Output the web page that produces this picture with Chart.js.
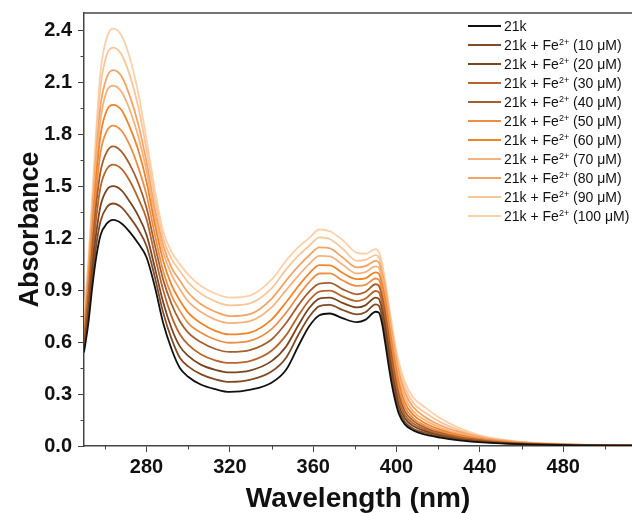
<!DOCTYPE html>
<html>
<head>
<meta charset="utf-8">
<script src="https://cdn.jsdelivr.net/npm/chart.js@4.4.1/dist/chart.umd.min.js"></script>
<style>
  body { margin: 0; background: #fff; }
  #wrap { position: relative; width: 632px; height: 513px; overflow: hidden; }
  #legend { position: absolute; left: 468px; top: 16px; font: 14px "Liberation Sans", Arial, sans-serif; color: #111; }
  #legend .row { height: 19.1px; display: flex; align-items: center; white-space: nowrap; }
  #legend .swatch { width: 33px; height: 2px; margin-right: 3px; flex: none; }
  #legend sup { font-size: 9px; vertical-align: 5px; line-height: 0; }
</style>
</head>
<body>
<div id="wrap">
  <canvas id="chartCanvas" width="632" height="513"></canvas>
  <div id="legend"></div>
</div>
<script>
// wavelength grid (nm)
const wavelengths = [250, 252, 254, 256, 258, 261, 264, 268, 272, 276, 280, 284, 288, 292, 296, 300, 306, 313, 320, 330, 340, 347, 353, 358, 363, 368, 374, 381, 385, 390, 391.5, 393, 394.5, 396, 397.5, 399, 401, 404, 408, 414, 421, 430, 443, 462, 486, 513];

// absorbance
const abs0 = [0.54, 0.70, 0.92, 1.10, 1.22, 1.285, 1.305, 1.285, 1.235, 1.17, 1.09, 0.92, 0.71, 0.56, 0.45, 0.40, 0.355, 0.328, 0.312, 0.325, 0.365, 0.44, 0.58, 0.69, 0.755, 0.765, 0.738, 0.715, 0.728, 0.775, 0.77, 0.71, 0.60, 0.48, 0.37, 0.28, 0.19, 0.125, 0.09, 0.065, 0.048, 0.033, 0.02, 0.009, 0.004, 0.002];
const abs10 = [0.56, 0.74, 0.97, 1.17, 1.30, 1.38, 1.40, 1.378, 1.32, 1.25, 1.155, 0.975, 0.77, 0.62, 0.51, 0.46, 0.415, 0.385, 0.37, 0.383, 0.43, 0.51, 0.645, 0.745, 0.808, 0.815, 0.786, 0.76, 0.772, 0.818, 0.81, 0.75, 0.645, 0.525, 0.41, 0.315, 0.215, 0.14, 0.10, 0.075, 0.054, 0.037, 0.022, 0.01, 0.0045, 0.002];
const abs20 = [0.58, 0.77, 1.03, 1.24, 1.39, 1.48, 1.50, 1.476, 1.41, 1.33, 1.22, 1.03, 0.83, 0.68, 0.575, 0.52, 0.47, 0.44, 0.425, 0.437, 0.49, 0.575, 0.70, 0.795, 0.851, 0.857, 0.826, 0.80, 0.812, 0.857, 0.85, 0.79, 0.69, 0.57, 0.45, 0.35, 0.24, 0.16, 0.115, 0.085, 0.061, 0.041, 0.024, 0.011, 0.005, 0.0025];
const abs30 = [0.60, 0.82, 1.09, 1.33, 1.50, 1.60, 1.625, 1.60, 1.53, 1.43, 1.31, 1.10, 0.90, 0.75, 0.645, 0.585, 0.53, 0.495, 0.48, 0.492, 0.55, 0.64, 0.755, 0.84, 0.892, 0.897, 0.864, 0.837, 0.85, 0.895, 0.888, 0.83, 0.73, 0.61, 0.49, 0.385, 0.27, 0.18, 0.13, 0.095, 0.068, 0.046, 0.027, 0.012, 0.0055, 0.0025];
const abs40 = [0.62, 0.86, 1.15, 1.41, 1.59, 1.70, 1.73, 1.70, 1.625, 1.52, 1.375, 1.16, 0.96, 0.82, 0.72, 0.655, 0.60, 0.56, 0.543, 0.555, 0.615, 0.71, 0.815, 0.89, 0.938, 0.942, 0.906, 0.876, 0.889, 0.934, 0.926, 0.865, 0.77, 0.65, 0.53, 0.42, 0.30, 0.20, 0.145, 0.105, 0.076, 0.051, 0.03, 0.013, 0.006, 0.003];
const abs50 = [0.64, 0.90, 1.21, 1.49, 1.70, 1.82, 1.85, 1.82, 1.735, 1.61, 1.45, 1.22, 1.01, 0.87, 0.78, 0.71, 0.655, 0.615, 0.596, 0.608, 0.675, 0.77, 0.87, 0.945, 0.996, 0.997, 0.957, 0.924, 0.93, 0.967, 0.96, 0.90, 0.81, 0.69, 0.57, 0.46, 0.335, 0.225, 0.16, 0.117, 0.085, 0.057, 0.033, 0.014, 0.0065, 0.003];
const abs60 = [0.66, 0.94, 1.26, 1.57, 1.80, 1.94, 1.97, 1.94, 1.84, 1.71, 1.525, 1.28, 1.07, 0.93, 0.84, 0.77, 0.71, 0.665, 0.644, 0.656, 0.73, 0.83, 0.925, 0.995, 1.044, 1.043, 1.0, 0.963, 0.968, 1.002, 0.995, 0.935, 0.85, 0.73, 0.61, 0.50, 0.37, 0.25, 0.18, 0.13, 0.095, 0.064, 0.036, 0.015, 0.007, 0.0035];
const abs70 = [0.68, 0.97, 1.31, 1.65, 1.89, 2.05, 2.08, 2.045, 1.94, 1.79, 1.59, 1.33, 1.12, 0.99, 0.905, 0.835, 0.775, 0.73, 0.71, 0.722, 0.80, 0.90, 0.985, 1.05, 1.098, 1.095, 1.048, 0.996, 1.004, 1.037, 1.03, 0.97, 0.885, 0.765, 0.645, 0.535, 0.40, 0.28, 0.20, 0.147, 0.107, 0.072, 0.04, 0.017, 0.0075, 0.0035];
const abs80 = [0.70, 0.99, 1.35, 1.70, 1.97, 2.13, 2.17, 2.135, 2.02, 1.86, 1.64, 1.37, 1.16, 1.03, 0.955, 0.885, 0.82, 0.775, 0.75, 0.763, 0.85, 0.955, 1.04, 1.10, 1.147, 1.141, 1.09, 1.031, 1.038, 1.069, 1.06, 1.0, 0.915, 0.795, 0.675, 0.565, 0.43, 0.31, 0.225, 0.165, 0.12, 0.081, 0.044, 0.019, 0.008, 0.004];
const abs90 = [0.72, 1.03, 1.40, 1.79, 2.08, 2.26, 2.30, 2.26, 2.14, 1.96, 1.71, 1.43, 1.20, 1.08, 1.01, 0.945, 0.88, 0.835, 0.812, 0.825, 0.91, 1.02, 1.10, 1.155, 1.205, 1.195, 1.14, 1.069, 1.074, 1.102, 1.09, 1.03, 0.94, 0.82, 0.70, 0.59, 0.46, 0.34, 0.25, 0.19, 0.138, 0.092, 0.048, 0.02, 0.0085, 0.004];
const abs100 = [0.74, 1.05, 1.45, 1.85, 2.17, 2.36, 2.41, 2.37, 2.24, 2.04, 1.77, 1.48, 1.24, 1.12, 1.05, 0.99, 0.925, 0.88, 0.857, 0.87, 0.96, 1.07, 1.15, 1.20, 1.25, 1.24, 1.19, 1.115, 1.11, 1.137, 1.12, 1.06, 0.96, 0.84, 0.72, 0.61, 0.49, 0.37, 0.28, 0.22, 0.16, 0.105, 0.052, 0.022, 0.009, 0.004];

const concentrations = [0, 10, 20, 30, 40, 50, 60, 70, 80, 90, 100]; // µM Fe2+
const lineColors = ['#111111', '#834a24', '#7a4521', '#b8652b', '#a65e2e', '#ee8e45', '#f28327', '#f6b27c', '#f4a466', '#fbc697', '#fdd0aa'];
const allSeries = [abs0, abs10, abs20, abs30, abs40, abs50, abs60, abs70, abs80, abs90, abs100];

const xMajor = 40, xMinor = [260, 300, 340, 380, 420, 460, 500];
const yMajor = 0.3, yMinor = [0.15, 0.45, 0.75, 1.05, 1.35, 1.65, 1.95, 2.25];

const axisColor = '#444';
const fontFamily = '"Liberation Sans", Arial, sans-serif';

function seriesName(c) {
  return c === 0 ? '21k' : '21k + Fe<sup>2+</sup> (' + c + ' μM)';
}

const frame = {
  id: 'frame',
  afterDraw(c) {
    const { ctx, chartArea: a, scales: { x, y } } = c;
    ctx.save();
    ctx.strokeStyle = axisColor;
    ctx.lineWidth = 1.5;
    ctx.beginPath(); ctx.moveTo(a.left - 0.75, a.top); ctx.lineTo(a.right, a.top); ctx.stroke();
    ctx.lineWidth = 1;
    ctx.beginPath();
    xMinor.forEach(v => { const px = Math.round(x.getPixelForValue(v)) + 0.5; ctx.moveTo(px, a.bottom); ctx.lineTo(px, a.bottom + 3.5); });
    yMinor.forEach(v => { const py = Math.round(y.getPixelForValue(v)) + 0.5; ctx.moveTo(a.left, py); ctx.lineTo(a.left - 3.5, py); });
    ctx.stroke();
    ctx.restore();
  }
};

const datasets = allSeries.map((vals, k) => ({
  label: concentrations[k] === 0 ? '21k' : '21k + Fe2+ (' + concentrations[k] + ' μM)',
  data: wavelengths.map((w, i) => ({ x: w, y: vals[i] })),
  borderColor: lineColors[k],
  borderWidth: 1.8,
  pointRadius: 0,
  cubicInterpolationMode: 'monotone',
  fill: false
}));

new Chart(document.getElementById('chartCanvas').getContext('2d'), {
  type: 'line',
  data: { datasets },
  options: {
    responsive: false,
    animation: false,
    layout: { padding: { left: 14, top: 13, right: 0, bottom: 0 } },
    plugins: { legend: { display: false }, tooltip: { enabled: false } },
    scales: {
      x: {
        type: 'linear', min: 250, max: 513,
        border: { display: true, color: axisColor, width: 1.5 },
        grid: { drawOnChartArea: false, drawTicks: true, tickLength: 6, tickColor: axisColor, tickWidth: 1 },
        ticks: { stepSize: xMajor, includeBounds: false, maxRotation: 0, padding: 3, color: '#111', font: { family: fontFamily, size: 20, weight: 'bold' } },
        title: { display: true, text: 'Wavelength (nm)', color: '#111', padding: { top: 0, bottom: -3 }, font: { family: fontFamily, size: 28, weight: 'bold' } },
        afterFit: s => { s.height = 67; s.paddingRight = 0; }
      },
      y: {
        min: 0, max: 2.5,
        border: { display: true, color: axisColor, width: 1.5 },
        grid: { drawOnChartArea: false, drawTicks: true, tickLength: 6, tickColor: axisColor, tickWidth: 1 },
        ticks: { stepSize: yMajor, includeBounds: false, padding: 6, color: '#111', font: { family: fontFamily, size: 20, weight: 'bold' }, callback: v => v.toFixed(1) },
        title: { display: true, text: 'Absorbance', color: '#111', padding: 0, font: { family: fontFamily, size: 27, weight: 'bold' } },
        afterFit: s => { s.width = 70; s.paddingTop = 0; }
      }
    }
  },
  plugins: [frame]
});

document.getElementById('legend').innerHTML = concentrations.map((c, k) =>
  '<div class="row"><span class="swatch" style="background:' + lineColors[k] + '"></span><span>' + seriesName(c) + '</span></div>').join('');
</script>
</body>
</html>
